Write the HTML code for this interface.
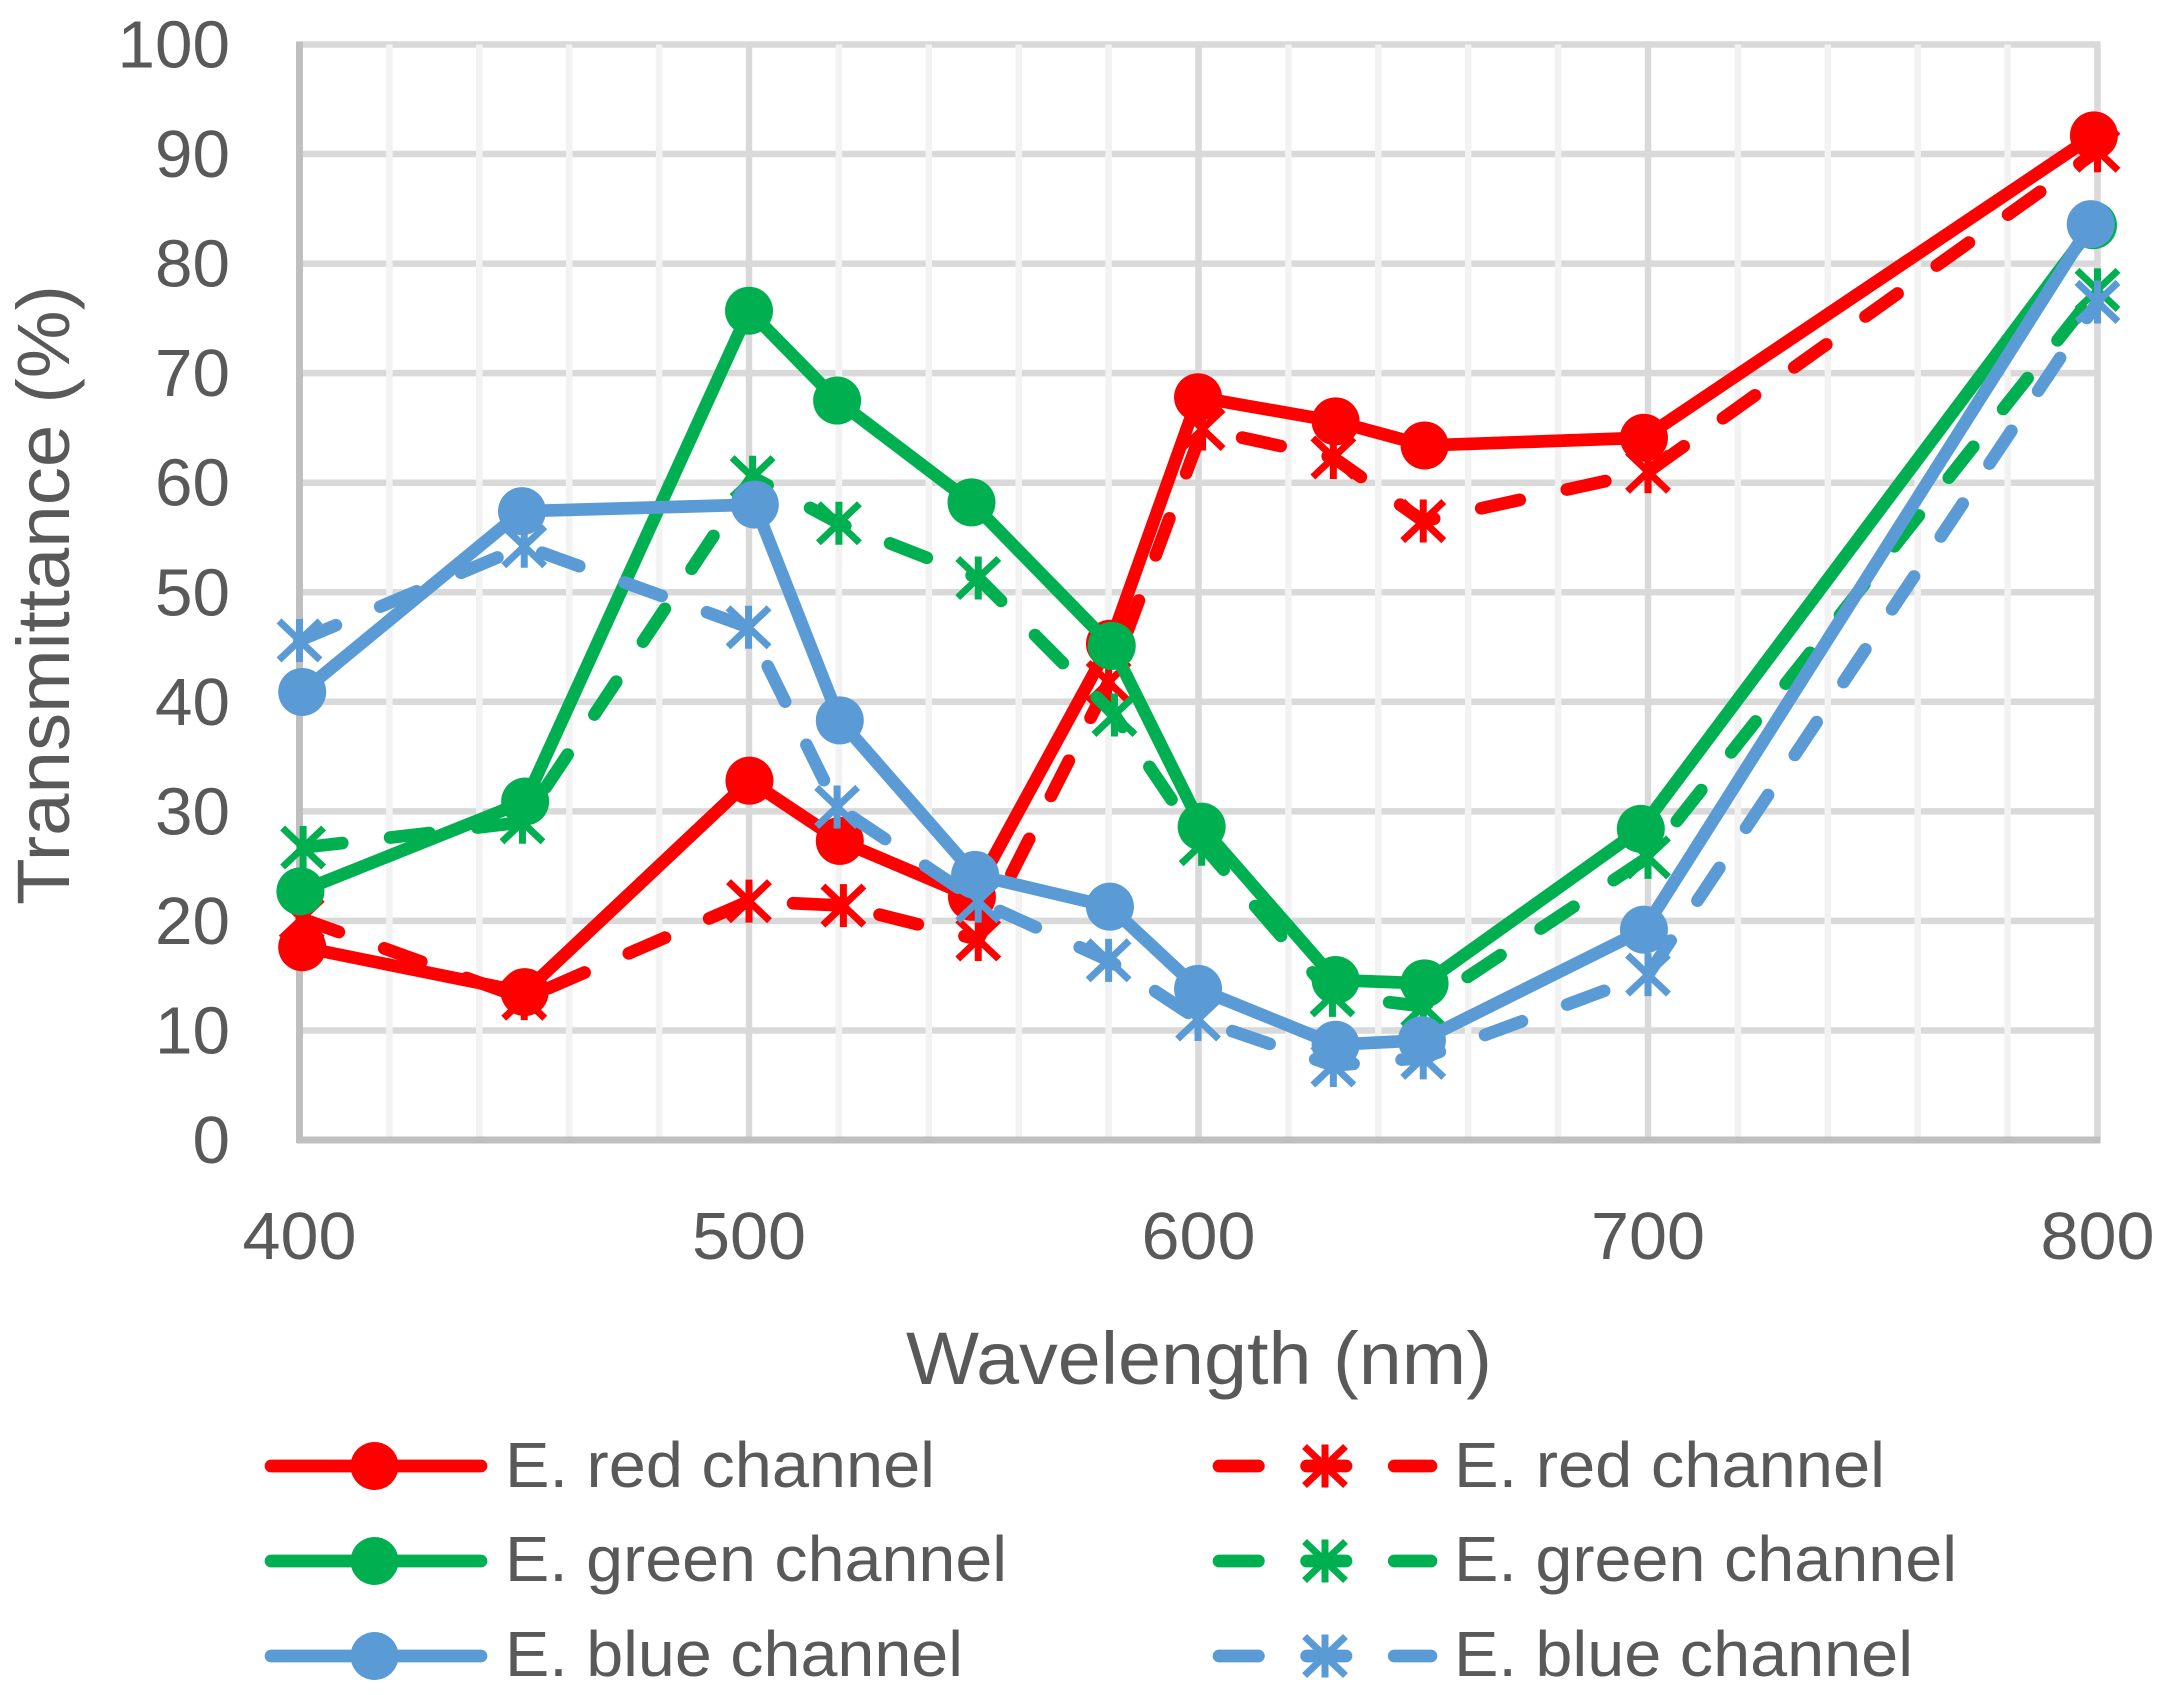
<!DOCTYPE html>
<html lang="en">
<head>
<meta charset="utf-8">
<title>Transmittance vs Wavelength</title>
<style>
html,body{margin:0;padding:0;background:#fff;width:2165px;height:1695px;overflow:hidden}
svg{display:block}
text{font-family:"Liberation Sans",Arial,sans-serif;fill:#595959}
</style>
</head>
<body>
<svg id="chart" xmlns="http://www.w3.org/2000/svg" width="2165" height="1695" viewBox="0 0 2165 1695">
  <rect x="0" y="0" width="2165" height="1695" fill="#ffffff"/>
  <g id="grid"></g>
  <g id="axes"></g>
  <g id="series"></g>
  <g id="ticks"></g>
  <text x="906" y="1384" font-size="74" textLength="586" lengthAdjust="spacingAndGlyphs">Wavelength (nm)</text>
  <text transform="translate(69 905) rotate(-90)" x="0" y="0" font-size="74" textLength="620" lengthAdjust="spacingAndGlyphs">Transmittance (%)</text>

  <g>
    <g>
      <line x1="271" y1="1466" x2="481" y2="1466" stroke="#ff0000" stroke-width="12.7" stroke-linecap="round"/>
      <circle cx="374.5" cy="1466" r="24" fill="#ff0000"/>
      <text x="505" y="1487" font-size="64" textLength="430" lengthAdjust="spacingAndGlyphs">E. red channel</text>
    </g>
    <g>
      <line x1="271" y1="1561" x2="481" y2="1561" stroke="#00b050" stroke-width="12.7" stroke-linecap="round"/>
      <circle cx="374.5" cy="1561" r="24" fill="#00b050"/>
      <text x="505" y="1581" font-size="64" textLength="502" lengthAdjust="spacingAndGlyphs">E. green channel</text>
    </g>
    <g>
      <line x1="271" y1="1656" x2="481" y2="1656" stroke="#5b9bd5" stroke-width="12.7" stroke-linecap="round"/>
      <circle cx="374.5" cy="1656" r="24" fill="#5b9bd5"/>
      <text x="505" y="1676" font-size="64" textLength="458" lengthAdjust="spacingAndGlyphs">E. blue channel</text>
    </g>
    <g stroke="#ff0000">
      <line x1="1219" y1="1466" x2="1431" y2="1466" stroke-width="12.7" stroke-linecap="round" stroke-dasharray="39.4 48.2" stroke-dashoffset="0"/>
      <path d="M1325 1444.5V1487.5M1304.5 1446.5L1345.5 1485.5M1345.5 1446.5L1304.5 1485.5" stroke-width="7" fill="none"/>
      <text x="1454" y="1487" font-size="64" textLength="431" lengthAdjust="spacingAndGlyphs" stroke="none">E. red channel</text>
    </g>
    <g stroke="#00b050">
      <line x1="1219" y1="1561" x2="1431" y2="1561" stroke-width="12.7" stroke-linecap="round" stroke-dasharray="39.4 48.2" stroke-dashoffset="0"/>
      <path d="M1325 1539.5V1582.5M1304.5 1541.5L1345.5 1580.5M1345.5 1541.5L1304.5 1580.5" stroke-width="7" fill="none"/>
      <text x="1454" y="1581" font-size="64" textLength="503" lengthAdjust="spacingAndGlyphs" stroke="none">E. green channel</text>
    </g>
    <g stroke="#5b9bd5">
      <line x1="1219" y1="1656" x2="1431" y2="1656" stroke-width="12.7" stroke-linecap="round" stroke-dasharray="39.4 48.2" stroke-dashoffset="0"/>
      <path d="M1325 1634.5V1677.5M1304.5 1636.5L1345.5 1675.5M1345.5 1636.5L1304.5 1675.5" stroke-width="7" fill="none"/>
      <text x="1454" y="1676" font-size="64" textLength="459" lengthAdjust="spacingAndGlyphs" stroke="none">E. blue channel</text>
    </g>
  </g>
</svg>

<script>
// ---- chart data ----
const yTicks = [0, 10, 20, 30, 40, 50, 60, 70, 80, 90, 100];
const xTicks = [400, 500, 600, 700, 800];
const xMinorTicks = [420, 440, 460, 480, 520, 540, 560, 580, 620, 640, 660, 680, 720, 740, 760, 780];

const redSolidX = [400.6, 450.1, 500.1, 520.2, 549.6, 580.3, 599.9, 630.5, 650.3, 699.1, 799.2];
const redSolidY = [17.6, 13.5, 32.8, 27.3, 22.2, 45.3, 67.8, 65.6, 63.4, 64.1, 91.7];
const greenSolidX = [400.2, 450.2, 500, 519.6, 549.5, 580.7, 600.7, 630.5, 650.3, 698.4, 799];
const greenSolidY = [22.7, 30.9, 75.7, 67.5, 58.2, 45.1, 28.6, 14.6, 14.3, 28.4, 83.5];
const blueSolidX = [400.6, 449.5, 501.3, 520.2, 550.3, 580.3, 599.9, 630.5, 649.7, 699.1, 798.5];
const blueSolidY = [40.9, 57.4, 58, 38.3, 24.2, 21.3, 13.8, 8.7, 9.1, 19.2, 83.6];

const redDashedX = [400.5, 450, 500, 521, 551, 580, 600.9, 630, 650, 700, 800];
const redDashedY = [20.2, 12.9, 21.8, 21.4, 18.3, 41.8, 64.9, 62.3, 56.5, 61, 90.3];
const greenDashedX = [400.8, 449.6, 500.8, 520, 551, 581.3, 600.7, 629.8, 650, 700, 800];
const greenDashedY = [26.7, 29, 60.5, 56.3, 51.3, 38.8, 27, 13.2, 12.2, 25.8, 77.6];
const blueDashedX = [400, 450, 499.9, 519.6, 551, 580, 599.9, 630, 650, 700, 800];
const blueDashedY = [45.6, 54.2, 46.8, 30.4, 21.8, 16.4, 11, 6.8, 7.5, 15.1, 76.5];

// ---- axis functions ----
const SVGNS = 'http://www.w3.org/2000/svg';
const plotLeft = 299.5, plotRight = 2097.5, plotTop = 44.5, plotBottom = 1140;
function xAxis(v) { return plotLeft + (v - 400) / 400 * (plotRight - plotLeft); }
function yAxis(v) { return plotBottom - v / 100 * (plotBottom - plotTop); }
function make(tag, attrs, parent) {
  const el = document.createElementNS(SVGNS, tag);
  for (const k in attrs) el.setAttribute(k, attrs[k]);
  parent.appendChild(el);
  return el;
}

const grid = document.getElementById('grid');
const axes = document.getElementById('axes');
const ticks = document.getElementById('ticks');
const seriesGroup = document.getElementById('series');

// horizontal major gridlines
yTicks.forEach(function (t) {
  if (t === 0) return;
  const el = make('line', {x1: plotLeft, x2: plotRight + 3, y1: yAxis(t), y2: yAxis(t), stroke: '#d9d9d9', 'stroke-width': 6.5}, grid);
  
  
});
// vertical minor gridlines
xMinorTicks.forEach(function (t) {
  const el = make('line', {x1: xAxis(t), x2: xAxis(t), y1: plotTop, y2: plotBottom, stroke: '#f2f2f2', 'stroke-width': 6.5}, grid);
  
  
});
// vertical major gridlines
xTicks.forEach(function (t) {
  if (t === 400) return;
  const el = make('line', {x1: xAxis(t), x2: xAxis(t), y1: plotTop, y2: plotBottom, stroke: '#d9d9d9', 'stroke-width': 6.5}, grid);
  
  
});

// axis lines
const yAxisLine = make('line', {x1: plotLeft, x2: plotLeft, y1: plotTop - 3, y2: plotBottom + 3, stroke: '#bfbfbf', 'stroke-width': 7}, axes);


const xAxisLine = make('line', {x1: plotLeft - 3, x2: plotRight + 3, y1: plotBottom, y2: plotBottom, stroke: '#bfbfbf', 'stroke-width': 7}, axes);



// tick labels
yTicks.forEach(function (t) {
  const label = String(t);
  const el = make('text', {x: 230, y: yAxis(t) + 23, 'font-size': 67, 'text-anchor': 'end', textLength: label.length * 37.5, lengthAdjust: 'spacingAndGlyphs'}, ticks);
  el.textContent = label;
  
  
});
xTicks.forEach(function (t) {
  const label = String(t);
  const el = make('text', {x: xAxis(t), y: 1259, 'font-size': 67, 'text-anchor': 'middle', textLength: label.length * 38, lengthAdjust: 'spacingAndGlyphs'}, ticks);
  el.textContent = label;
  
  
});

// series drawing
function pathFrom(xs, ys) {
  return xs.map(function (x, i) { return (i ? 'L' : 'M') + xAxis(x).toFixed(2) + ' ' + yAxis(ys[i]).toFixed(2); }).join('');
}
function drawSolid(name, xs, ys, color) {
  const g = make('g', {}, seriesGroup);
  
  
  const line = make('path', {d: pathFrom(xs, ys), fill: 'none', stroke: color, 'stroke-width': 12.7, 'stroke-linecap': 'round', 'stroke-linejoin': 'round'}, g);
  
  
  xs.forEach(function (x, i) {
    const c = make('circle', {cx: xAxis(x), cy: yAxis(ys[i]), r: 24, fill: color}, g);
    
    
  });
}
function drawDashed(name, xs, ys, color) {
  const g = make('g', {}, seriesGroup);
  
  
  const line = make('path', {d: pathFrom(xs, ys), fill: 'none', stroke: color, 'stroke-width': 12.7, 'stroke-linecap': 'round', 'stroke-linejoin': 'round', 'stroke-dasharray': '39.4 48.2'}, g);
  
  
  xs.forEach(function (x, i) {
    const cx = xAxis(x), cy = yAxis(ys[i]);
    const d = 'M' + cx + ' ' + (cy - 21.5) + 'V' + (cy + 21.5) +
      'M' + (cx - 20.5) + ' ' + (cy - 19.5) + 'L' + (cx + 20.5) + ' ' + (cy + 19.5) +
      'M' + (cx + 20.5) + ' ' + (cy - 19.5) + 'L' + (cx - 20.5) + ' ' + (cy + 19.5);
    const s = make('path', {d: d, fill: 'none', stroke: color, 'stroke-width': 7}, g);
    
    
  });
}

drawSolid('series-red-solid', redSolidX, redSolidY, '#ff0000');
drawDashed('series-red-dashed', redDashedX, redDashedY, '#ff0000');
drawSolid('series-green-solid', greenSolidX, greenSolidY, '#00b050');
drawDashed('series-green-dashed', greenDashedX, greenDashedY, '#00b050');
drawSolid('series-blue-solid', blueSolidX, blueSolidY, '#5b9bd5');
drawDashed('series-blue-dashed', blueDashedX, blueDashedY, '#5b9bd5');
</script>
</body>
</html>
